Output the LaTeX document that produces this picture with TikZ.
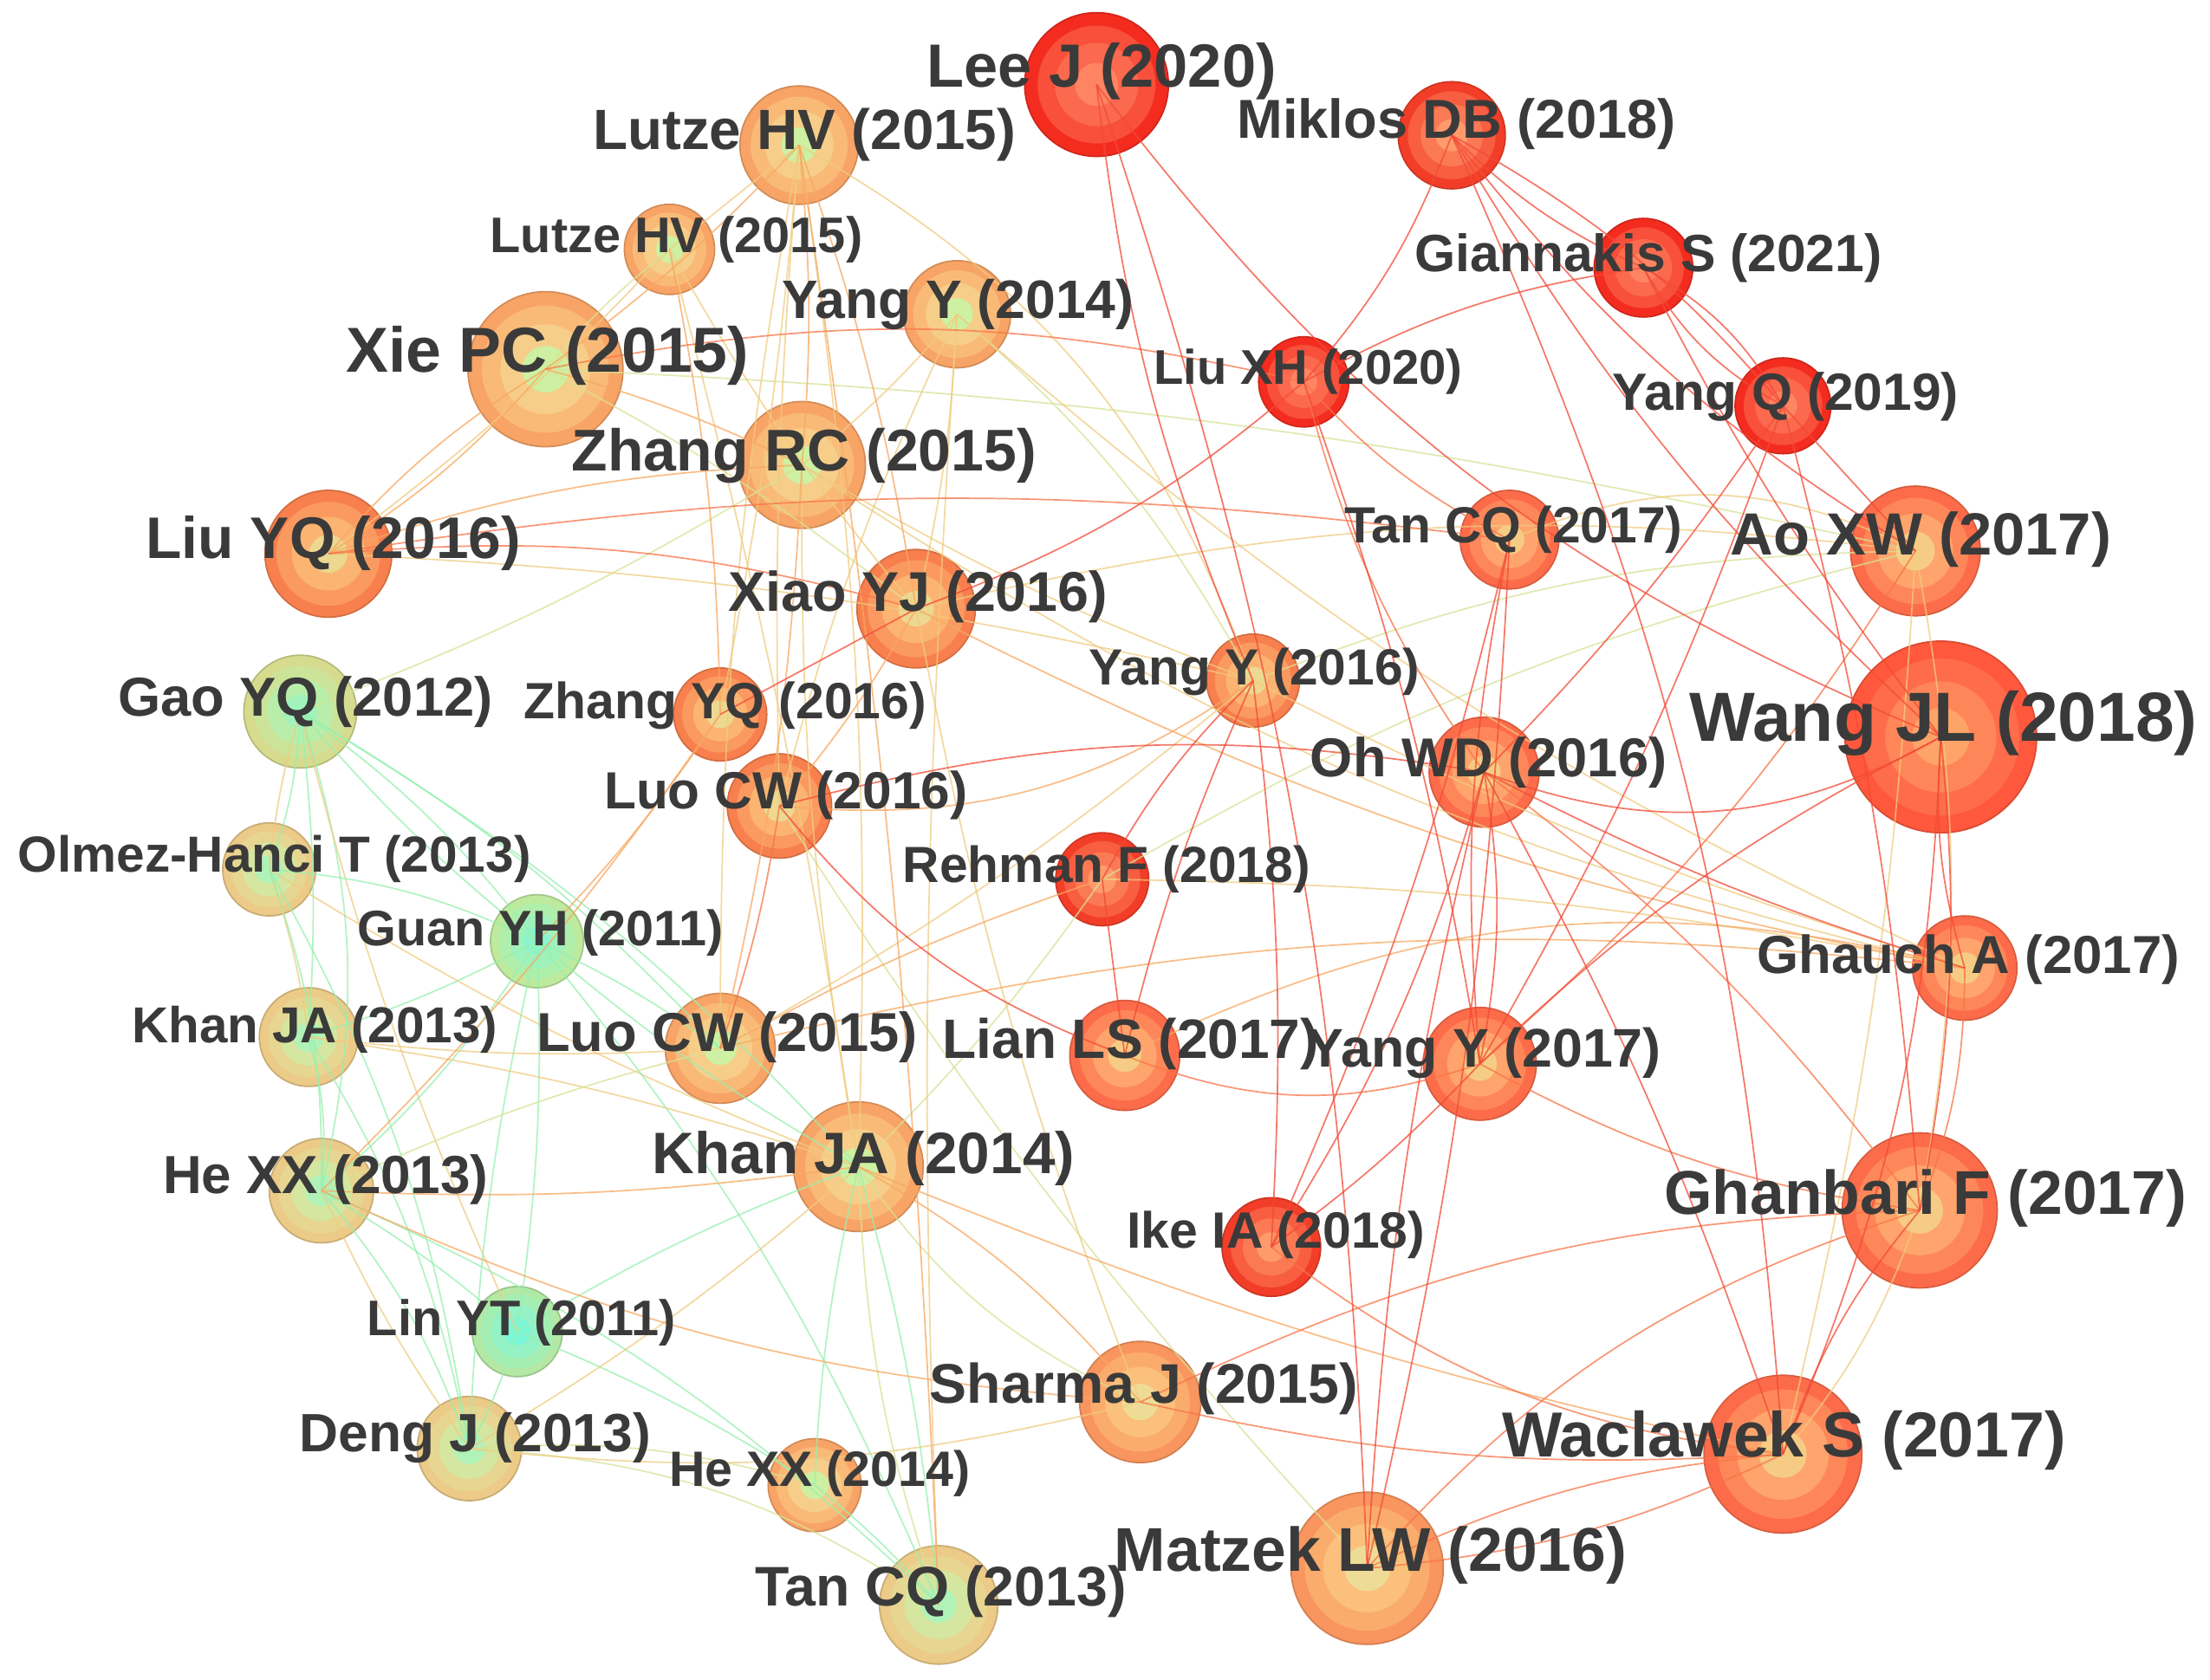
\documentclass[tikz,border=0pt]{standalone}
\usepackage{fontspec}
\setmainfont{Liberation Sans}
% node colour sets (outer, ring, inner ring, centre)
\definecolor{Ra}{HTML}{F42C20}\definecolor{Rb}{HTML}{F8503A}\definecolor{Rc}{HTML}{FB6A4E}\definecolor{Rd}{HTML}{FF8462}
\definecolor{RRa}{HTML}{F23E28}\definecolor{RRb}{HTML}{F85E42}\definecolor{RRc}{HTML}{FB7A56}\definecolor{RRd}{HTML}{FF9A6C}
\definecolor{Wa}{HTML}{FF583C}\definecolor{Wb}{HTML}{FF6C4C}\definecolor{Wc}{HTML}{FF8658}\definecolor{Wd}{HTML}{FFA468}
\definecolor{OAa}{HTML}{FD6C4A}\definecolor{OAb}{HTML}{FE875A}\definecolor{OAc}{HTML}{FEA46C}\definecolor{OAd}{HTML}{F6CC84}
\definecolor{OBa}{HTML}{F8804E}\definecolor{OBb}{HTML}{FA9A60}\definecolor{OBc}{HTML}{FCB472}\definecolor{OBd}{HTML}{ECD890}
\definecolor{OCa}{HTML}{F9955F}\definecolor{OCb}{HTML}{FAAC6C}\definecolor{OCc}{HTML}{FBC07C}\definecolor{OCd}{HTML}{EEDC96}
\definecolor{La}{HTML}{F8A466}\definecolor{Lb}{HTML}{F9BA78}\definecolor{Lc}{HTML}{F6CE8A}\definecolor{Ld}{HTML}{CDF0A2}
\definecolor{Ya}{HTML}{ECCA88}\definecolor{Yb}{HTML}{E6D692}\definecolor{Yc}{HTML}{D4E6A0}\definecolor{Yd}{HTML}{B0F2B8}
\definecolor{GAa}{HTML}{D6DB8E}\definecolor{GAb}{HTML}{CCE49A}\definecolor{GAc}{HTML}{B8EEAA}\definecolor{GAd}{HTML}{A2F2BE}
\definecolor{GBa}{HTML}{BEEA9E}\definecolor{GBb}{HTML}{B0EEAC}\definecolor{GBc}{HTML}{A0F2BC}\definecolor{GBd}{HTML}{8AF5CE}
\definecolor{GCa}{HTML}{B4E8A4}\definecolor{GCb}{HTML}{A4EEB4}\definecolor{GCc}{HTML}{94F2C6}\definecolor{GCd}{HTML}{7CF6D8}
% edge colours
\definecolor{cR}{HTML}{F24A36}\definecolor{cRO}{HTML}{F87448}\definecolor{cO}{HTML}{F8A860}
\definecolor{cY}{HTML}{F0CC80}\definecolor{cYG}{HTML}{D8E296}\definecolor{cG}{HTML}{98F0B0}
\definecolor{labc}{HTML}{3A3A3A}
\newcommand\cnode[5]{%
 \node[circle, inner sep=0pt, minimum size=#4cm, fill=#5a, draw=#5a!85!black, line width=0.3pt] (#1) at (#2,#3) {};
 \fill[#5b] (#1.center) circle ({0.41*#4});
 \fill[#5c] (#1.center) circle ({0.29*#4});
 \fill[#5d] (#1.center) circle ({0.15*#4});
}
\newcommand\E[4]{\draw[#1] (#2.center) to[bend left=#4] (#3.center);}
\newcommand\lf[1]{\fontsize{#1pt}{#1pt}\selectfont\bfseries}
\tikzset{
 edge/.style={line width=0.3pt, opacity=0.75},
 eR/.style={edge, draw=cR}, eRO/.style={edge, draw=cRO}, eO/.style={edge, draw=cO},
 eY/.style={edge, draw=cY}, eYG/.style={edge, draw=cYG}, eG/.style={edge, draw=cG},
 lab/.style={anchor=base west, inner sep=0pt, text=labc}
}
\begin{document}
\begin{tikzpicture}[x=1cm,y=1cm]
\useasboundingbox (0,0) rectangle (15.68,-11.92);
\fill[white] (0,0) rectangle (15.68,-11.92);
% ---------- nodes ----------
\cnode{LeeJ}{7.78}{-0.60}{1.02}{R}
\cnode{MiklosDB}{10.30}{-0.96}{0.76}{RR}
\cnode{GiannakisS}{11.66}{-1.90}{0.70}{R}
\cnode{YangQ}{12.65}{-2.88}{0.68}{R}
\cnode{LiuXH}{9.25}{-2.71}{0.64}{R}
\cnode{LutzeA}{5.67}{-1.03}{0.84}{L}
\cnode{LutzeB}{4.75}{-1.77}{0.64}{L}
\cnode{YangYa}{6.79}{-2.23}{0.76}{L}
\cnode{XiePC}{3.87}{-2.62}{1.10}{L}
\cnode{ZhangRC}{5.69}{-3.30}{0.90}{L}
\cnode{LiuYQ}{2.33}{-3.93}{0.90}{OB}
\cnode{XiaoYJ}{6.50}{-4.32}{0.84}{OB}
\cnode{TanCQa}{10.71}{-3.83}{0.70}{OA}
\cnode{AoXW}{13.59}{-3.91}{0.92}{OA}
\cnode{WangJL}{13.77}{-5.23}{1.36}{W}
\cnode{GaoYQ}{2.13}{-5.05}{0.80}{GA}
\cnode{ZhangYQ}{5.11}{-5.07}{0.66}{OB}
\cnode{YangYb}{8.89}{-4.83}{0.66}{OB}
\cnode{OhWD}{10.53}{-5.48}{0.78}{OA}
\cnode{LuoCWa}{5.53}{-5.72}{0.74}{OB}
\cnode{Olmez}{1.91}{-6.17}{0.66}{Y}
\cnode{RehmanF}{7.82}{-6.24}{0.66}{RR}
\cnode{GuanYH}{3.81}{-6.68}{0.66}{GB}
\cnode{GhauchA}{13.94}{-6.87}{0.74}{OA}
\cnode{KhanJAa}{2.19}{-7.36}{0.70}{Y}
\cnode{LuoCWb}{5.11}{-7.44}{0.78}{L}
\cnode{LianLS}{7.98}{-7.49}{0.78}{OA}
\cnode{YangYc}{10.50}{-7.55}{0.80}{OA}
\cnode{HeXXa}{2.28}{-8.45}{0.74}{Y}
\cnode{KhanJAb}{6.09}{-8.28}{0.92}{L}
\cnode{GhanbariF}{13.62}{-8.59}{1.10}{OA}
\cnode{IkeIA}{9.02}{-8.85}{0.70}{RR}
\cnode{LinYT}{3.67}{-9.45}{0.64}{GC}
\cnode{SharmaJ}{8.09}{-9.95}{0.86}{OC}
\cnode{DengJ}{3.33}{-10.28}{0.74}{Y}
\cnode{HeXXb}{5.78}{-10.54}{0.66}{L}
\cnode{WaclawekS}{12.65}{-10.32}{1.12}{OA}
\cnode{MatzekLW}{9.70}{-11.13}{1.08}{OC}
\cnode{TanCQb}{6.66}{-11.39}{0.84}{Y}
% ---------- edges: green / yellow ----------
\E{eG}{GaoYQ}{Olmez}{8}
\E{eY}{GaoYQ}{Olmez}{-5}
\E{eG}{GaoYQ}{GuanYH}{8}
\E{eG}{GaoYQ}{GuanYH}{-5}
\E{eG}{GaoYQ}{KhanJAa}{5}
\E{eG}{GaoYQ}{HeXXa}{15}
\E{eG}{GaoYQ}{LuoCWb}{8}
\E{eG}{GaoYQ}{KhanJAb}{8}
\E{eY}{GaoYQ}{LinYT}{-5}
\E{eG}{Olmez}{GuanYH}{10}
\E{eY}{Olmez}{KhanJAa}{5}
\E{eG}{Olmez}{HeXXa}{10}
\E{eY}{Olmez}{KhanJAb}{-5}
\E{eG}{Olmez}{DengJ}{10}
\E{eG}{GuanYH}{KhanJAa}{5}
\E{eG}{GuanYH}{HeXXa}{8}
\E{eG}{GuanYH}{LuoCWb}{5}
\E{eG}{GuanYH}{KhanJAb}{-5}
\E{eG}{GuanYH}{LinYT}{5}
\E{eG}{GuanYH}{TanCQb}{8}
\E{eG}{GuanYH}{DengJ}{-5}
\E{eG}{KhanJAa}{HeXXa}{10}
\E{eG}{KhanJAa}{DengJ}{10}
\E{eY}{KhanJAa}{LuoCWb}{-5}
\E{eY}{KhanJAa}{KhanJAb}{5}
\E{eG}{HeXXa}{LinYT}{5}
\E{eG}{HeXXa}{DengJ}{10}
\E{eY}{HeXXa}{DengJ}{-5}
\E{eG}{HeXXa}{TanCQb}{10}
\E{eYG}{HeXXa}{LuoCWb}{5}
\E{eG}{LinYT}{DengJ}{5}
\E{eG}{LinYT}{HeXXb}{5}
\E{eG}{LinYT}{KhanJAb}{5}
\E{eYG}{DengJ}{TanCQb}{15}
\E{eYG}{DengJ}{HeXXb}{10}
\E{eY}{DengJ}{SharmaJ}{-10}
\E{eY}{DengJ}{KhanJAb}{-5}
\E{eG}{HeXXb}{TanCQb}{5}
\E{eG}{HeXXb}{KhanJAb}{5}
\E{eG}{KhanJAb}{TanCQb}{5}
\E{eYG}{KhanJAb}{TanCQb}{-8}
\E{eYG}{KhanJAb}{SharmaJ}{-15}
\E{eYG}{RehmanF}{KhanJAb}{5}
\E{eYG}{LuoCWa}{MatzekLW}{-5}
\E{eYG}{XiePC}{AoXW}{5}
\E{eYG}{XiePC}{LutzeB}{5}
\E{eYG}{XiePC}{XiaoYJ}{5}
\E{eYG}{ZhangRC}{GaoYQ}{5}
\E{eYG}{YangYa}{YangYb}{10}
\E{eYG}{YangYb}{AoXW}{10}
\E{eYG}{RehmanF}{AoXW}{8}
\E{eY}{LiuYQ}{YangYb}{5}
\E{eY}{LiuYQ}{LutzeB}{-5}
\E{eY}{LutzeA}{ZhangYQ}{3}
\E{eY}{LutzeA}{LuoCWa}{-3}
\E{eY}{LutzeA}{YangYb}{20}
\E{eY}{LutzeA}{LuoCWb}{-5}
\E{eY}{LutzeA}{KhanJAb}{5}
\E{eY}{LutzeA}{LutzeB}{0}
\E{eY}{LutzeB}{XiaoYJ}{-5}
\E{eY}{LutzeB}{KhanJAb}{3}
\E{eY}{YangYa}{ZhangRC}{5}
\E{eY}{YangYa}{XiaoYJ}{5}
\E{eY}{YangYa}{LuoCWa}{-5}
\E{eY}{YangYa}{GhauchA}{-8}
\E{eY}{YangYa}{TanCQb}{-3}
\E{eY}{ZhangRC}{GhauchA}{-10}
\E{eY}{ZhangRC}{YangYb}{-5}
\E{eY}{ZhangRC}{KhanJAb}{-5}
\E{eY}{XiaoYJ}{AoXW}{10}
\E{eY}{XiaoYJ}{SharmaJ}{-5}
\E{eY}{YangYb}{GhauchA}{-5}
\E{eY}{RehmanF}{GhauchA}{5}
\E{eY}{LuoCWb}{YangYb}{-5}
\E{eY}{TanCQa}{AoXW}{25}
\E{eY}{AoXW}{GhanbariF}{10}
\E{eY}{AoXW}{WaclawekS}{5}
\E{eY}{GhanbariF}{WaclawekS}{10}
% ---------- edges: orange ----------
\E{eO}{LiuYQ}{ZhangRC}{8}
\E{eO}{LiuYQ}{XiePC}{8}
\E{eO}{LiuYQ}{XiePC}{-8}
\E{eO}{XiePC}{LutzeA}{-5}
\E{eO}{XiePC}{ZhangRC}{5}
\E{eO}{LutzeA}{ZhangRC}{5}
\E{eO}{LutzeA}{XiaoYJ}{5}
\E{eO}{LutzeA}{TanCQb}{3}
\E{eO}{LutzeB}{ZhangYQ}{5}
\E{eO}{ZhangRC}{LuoCWb}{5}
\E{eO}{ZhangYQ}{GuanYH}{5}
\E{eO}{ZhangYQ}{HeXXa}{5}
\E{eO}{XiaoYJ}{GhauchA}{-8}
\E{eO}{XiaoYJ}{LuoCWa}{5}
\E{eO}{LuoCWa}{YangYb}{-20}
\E{eO}{LuoCWb}{RehmanF}{5}
\E{eO}{LuoCWb}{GhauchA}{10}
\E{eO}{LianLS}{GhauchA}{20}
\E{eO}{HeXXa}{KhanJAb}{-5}
\E{eO}{HeXXa}{SharmaJ}{-10}
\E{eO}{KhanJAb}{SharmaJ}{10}
\E{eO}{KhanJAb}{WaclawekS}{-5}
% ---------- edges: red-orange / red ----------
\E{eRO}{LiuYQ}{XiaoYJ}{10}
\E{eRO}{LiuYQ}{TanCQa}{8}
\E{eRO}{XiePC}{LiuXH}{12}
\E{eRO}{LuoCWa}{LuoCWb}{5}
\E{eRO}{LiuXH}{OhWD}{-10}
\E{eRO}{LiuXH}{TanCQa}{-10}
\E{eRO}{OhWD}{GhanbariF}{8}
\E{eRO}{YangYc}{AoXW}{-8}
\E{eRO}{YangYc}{GhanbariF}{-10}
\E{eRO}{GhauchA}{GhanbariF}{10}
\E{eRO}{MatzekLW}{WaclawekS}{10}
\E{eRO}{MatzekLW}{WaclawekS}{-10}
\E{eRO}{MatzekLW}{GhanbariF}{15}
\E{eRO}{IkeIA}{WaclawekS}{-15}
\E{eRO}{SharmaJ}{GhanbariF}{12}
\E{eRO}{SharmaJ}{WaclawekS}{-8}
\E{eRO}{LianLS}{YangYc}{-20}
\E{eR}{LeeJ}{YangYb}{-8}
\E{eR}{LeeJ}{MatzekLW}{8}
\E{eR}{LeeJ}{WangJL}{-15}
\E{eR}{MiklosDB}{LiuXH}{10}
\E{eR}{GiannakisS}{LiuXH}{-10}
\E{eR}{MiklosDB}{GiannakisS}{-10}
\E{eR}{MiklosDB}{YangQ}{10}
\E{eR}{MiklosDB}{AoXW}{-10}
\E{eR}{MiklosDB}{WangJL}{-8}
\E{eR}{MiklosDB}{WaclawekS}{10}
\E{eR}{GiannakisS}{YangQ}{15}
\E{eR}{GiannakisS}{YangQ}{-15}
\E{eR}{GiannakisS}{WangJL}{-5}
\E{eR}{YangQ}{OhWD}{5}
\E{eR}{YangQ}{YangYc}{5}
\E{eR}{YangQ}{GhanbariF}{5}
\E{eR}{YangQ}{AoXW}{0}
\E{eR}{LiuXH}{XiaoYJ}{10}
\E{eR}{LiuXH}{YangYc}{5}
\E{eR}{TanCQa}{MatzekLW}{5}
\E{eR}{TanCQa}{YangYc}{-8}
\E{eR}{TanCQa}{IkeIA}{5}
\E{eR}{OhWD}{WangJL}{-25}
\E{eR}{OhWD}{GhauchA}{-5}
\E{eR}{OhWD}{YangYc}{10}
\E{eR}{OhWD}{WaclawekS}{5}
\E{eR}{OhWD}{MatzekLW}{-5}
\E{eR}{OhWD}{IkeIA}{8}
\E{eR}{YangYc}{WangJL}{8}
\E{eR}{WangJL}{GhanbariF}{8}
\E{eR}{WangJL}{WaclawekS}{10}
\E{eR}{WangJL}{GhauchA}{-10}
\E{eR}{GhanbariF}{WaclawekS}{-10}
\E{eR}{IkeIA}{YangYc}{-5}
\E{eR}{RehmanF}{LianLS}{0}
\E{eR}{RehmanF}{YangYb}{8}
\E{eR}{LianLS}{YangYb}{5}
\E{eR}{LuoCWa}{LianLS}{-15}
\E{eR}{LuoCWa}{OhWD}{12}
\E{eR}{YangYb}{IkeIA}{5}
\E{eR}{XiaoYJ}{ZhangYQ}{0}
% ---------- labels ----------
\node[lab, font=\lf{12.32}] (t-LeeJ) at (6.57,-0.62) {Lee J (2020)};
\node[lab, font=\lf{11.07}] (t-MiklosDB) at (8.77,-0.98) {Miklos DB (2018)};
\node[lab, font=\lf{10.61}] (t-GiannakisS) at (10.03,-1.93) {Giannakis S (2021)};
\node[lab, font=\lf{10.58}] (t-YangQ) at (11.43,-2.91) {Yang Q (2019)};
\node[lab, font=\lf{9.84}] (t-LiuXH) at (8.18,-2.73) {Liu XH (2020)};
\node[lab, font=\lf{11.47}] (t-LutzeA) at (4.20,-1.06) {Lutze HV (2015)};
\node[lab, font=\lf{10.10}] (t-LutzeB) at (3.47,-1.79) {Lutze HV (2015)};
\node[lab, font=\lf{10.93}] (t-YangYa) at (5.54,-2.26) {Yang Y (2014)};
\node[lab, font=\lf{12.83}] (t-XiePC) at (2.45,-2.64) {Xie PC (2015)};
\node[lab, font=\lf{11.89}] (t-ZhangRC) at (4.05,-3.34) {Zhang RC (2015)};
\node[lab, font=\lf{11.84}] (t-LiuYQ) at (1.03,-3.96) {Liu YQ (2016)};
\node[lab, font=\lf{11.30}] (t-XiaoYJ) at (5.16,-4.34) {Xiao YJ (2016)};
\node[lab, font=\lf{10.27}] (t-TanCQa) at (9.53,-3.85) {Tan CQ (2017)};
\node[lab, font=\lf{12.03}] (t-AoXW) at (12.27,-3.94) {Ao XW (2017)};
\node[lab, font=\lf{14.05}] (t-WangJL) at (11.98,-5.26) {Wang JL (2018)};
\node[lab, font=\lf{11.07}] (t-GaoYQ) at (0.83,-5.08) {Gao YQ (2012)};
\node[lab, font=\lf{10.30}] (t-ZhangYQ) at (3.71,-5.10) {Zhang YQ (2016)};
\node[lab, font=\lf{10.27}] (t-YangYb) at (7.72,-4.86) {Yang Y (2016)};
\node[lab, font=\lf{11.07}] (t-OhWD) at (9.29,-5.51) {Oh WD (2016)};
\node[lab, font=\lf{10.56}] (t-LuoCWa) at (4.28,-5.74) {Luo CW (2016)};
\node[lab, font=\lf{10.24}] (t-Olmez) at (0.12,-6.19) {Olmez-Hanci T (2013)};
\node[lab, font=\lf{10.27}] (t-RehmanF) at (6.40,-6.26) {Rehman F (2018)};
\node[lab, font=\lf{10.07}] (t-GuanYH) at (2.53,-6.71) {Guan YH (2011)};
\node[lab, font=\lf{10.81}] (t-GhauchA) at (12.46,-6.91) {Ghauch A (2017)};
\node[lab, font=\lf{10.21}] (t-KhanJAa) at (0.93,-7.40) {Khan JA (2013)};
\node[lab, font=\lf{11.07}] (t-LuoCWb) at (3.80,-7.46) {Luo CW (2015)};
\node[lab, font=\lf{11.21}] (t-LianLS) at (6.68,-7.51) {Lian LS (2017)};
\node[lab, font=\lf{10.98}] (t-YangYc) at (9.27,-7.57) {Yang Y (2017)};
\node[lab, font=\lf{10.84}] (t-HeXXa) at (1.15,-8.47) {He XX (2013)};
\node[lab, font=\lf{11.81}] (t-KhanJAb) at (4.62,-8.33) {Khan JA (2014)};
\node[lab, font=\lf{12.49}] (t-GhanbariF) at (11.80,-8.62) {Ghanbari F (2017)};
\node[lab, font=\lf{10.30}] (t-IkeIA) at (7.99,-8.86) {Ike IA (2018)};
\node[lab, font=\lf{10.10}] (t-LinYT) at (2.60,-9.48) {Lin YT (2011)};
\node[lab, font=\lf{11.27}] (t-SharmaJ) at (6.59,-9.96) {Sharma J (2015)};
\node[lab, font=\lf{10.90}] (t-DengJ) at (2.12,-10.30) {Deng J (2013)};
\node[lab, font=\lf{10.04}] (t-HeXXb) at (4.74,-10.55) {He XX (2014)};
\node[lab, font=\lf{12.86}] (t-WaclawekS) at (10.65,-10.34) {Waclawek S (2017)};
\node[lab, font=\lf{12.49}] (t-MatzekLW) at (7.90,-11.15) {Matzek LW (2016)};
\node[lab, font=\lf{11.27}] (t-TanCQb) at (5.35,-11.40) {Tan CQ (2013)};
\end{tikzpicture}
\end{document}
